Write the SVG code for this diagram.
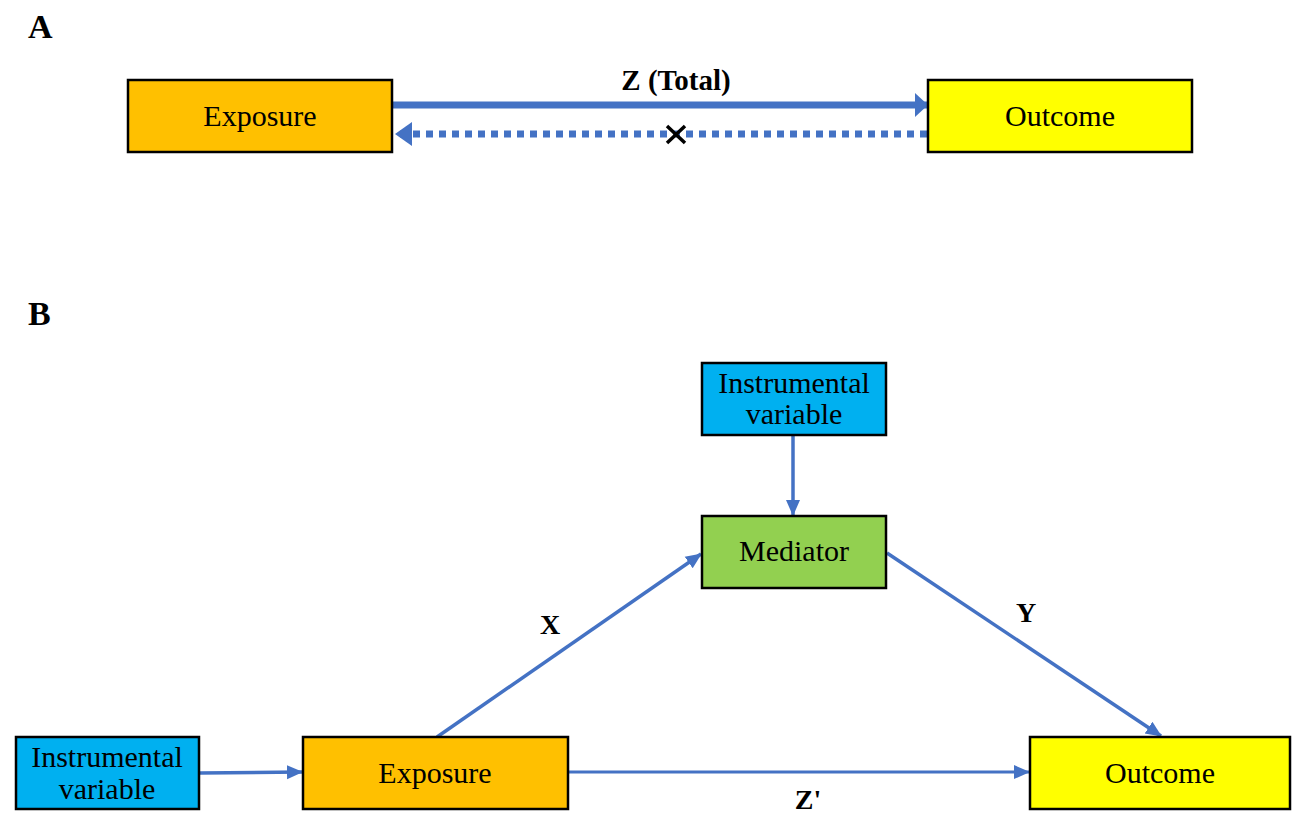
<svg xmlns="http://www.w3.org/2000/svg" width="1295" height="814" viewBox="0 0 1295 814">
<style>
.box{stroke:#000;stroke-width:2.5}
.t{font-family:"Liberation Serif","Times New Roman",serif;font-size:30px;fill:#000;text-anchor:middle}
.b{font-family:"Liberation Serif","Times New Roman",serif;font-weight:bold;fill:#000}
.c{stroke:#4472C4;fill:none}
</style>
<defs>
<marker id="big" markerUnits="userSpaceOnUse" markerWidth="14" markerHeight="24" refX="12" refY="12" orient="auto">
<path d="M0,0 L13,12 L0,24 Z" fill="#4472C4"/>
</marker>
<marker id="dash" markerUnits="userSpaceOnUse" markerWidth="18" markerHeight="24" refX="16" refY="12" orient="auto">
<path d="M0,0 L17,12 L0,24 Z" fill="#4472C4"/>
</marker>
<marker id="sm" markerUnits="userSpaceOnUse" markerWidth="16" markerHeight="16" refX="15" refY="8" orient="auto">
<path d="M0,1 L16,8 L0,15 Z" fill="#4472C4"/>
</marker>
</defs>
<rect width="1295" height="814" fill="#fff"/>
<text class="b" x="28" y="38" font-size="34">A</text>
<text class="b" x="28" y="325" font-size="34">B</text>

<g id="connectors">
<line class="c" x1="393" y1="105" x2="927" y2="105" stroke-width="7" marker-end="url(#big)"/>
<line class="c" x1="927" y1="134" x2="396" y2="134" stroke-width="7" stroke-dasharray="7 6" marker-end="url(#dash)"/>
<line class="c" x1="793" y1="436" x2="793" y2="515" stroke-width="3.5" marker-end="url(#sm)"/>
<line class="c" x1="200" y1="773" x2="302" y2="772" stroke-width="3.5" marker-end="url(#sm)"/>
<line class="c" x1="569" y1="772" x2="1029" y2="772" stroke-width="3" marker-end="url(#sm)"/>
<line class="c" x1="437" y1="737" x2="701" y2="554" stroke-width="3.5" marker-end="url(#sm)"/>
<line class="c" x1="887" y1="553" x2="1161" y2="736" stroke-width="3.5" marker-end="url(#sm)"/>
</g>
<g id="labels">
<text class="b" x="676" y="90" font-size="29" text-anchor="middle">Z (Total)</text>
<path d="M667,126 L685,143 M685,126 L667,143" stroke="#000" stroke-width="3.5"/>
<text class="b" x="550" y="634" font-size="28" text-anchor="middle">X</text>
<text class="b" x="1026" y="622" font-size="28" text-anchor="middle">Y</text>
<text class="b" x="808" y="809" font-size="28" text-anchor="middle">Z'</text>
</g>

<g id="exposureA">
<rect class="box" x="128" y="80" width="264" height="72" fill="#FFC000"/>
<text class="t" x="260" y="126">Exposure</text>
</g>
<g id="outcomeA">
<rect class="box" x="928" y="80" width="264" height="72" fill="#FFFF00"/>
<text class="t" x="1060" y="126">Outcome</text>
</g>
<g id="ivTop">
<rect class="box" x="702" y="363" width="184" height="72" fill="#00B0F0"/>
<text class="t" x="794" y="393">Instrumental</text>
<text class="t" x="794" y="424">variable</text>
</g>
<g id="mediator">
<rect class="box" x="702" y="516" width="184" height="72" fill="#92D050"/>
<text class="t" x="794" y="561">Mediator</text>
</g>
<g id="ivLeft">
<rect class="box" x="16" y="737" width="183" height="72" fill="#00B0F0"/>
<text class="t" x="107" y="767">Instrumental</text>
<text class="t" x="107" y="799">variable</text>
</g>
<g id="exposureB">
<rect class="box" x="303" y="737" width="265" height="72" fill="#FFC000"/>
<text class="t" x="435" y="783">Exposure</text>
</g>
<g id="outcomeB">
<rect class="box" x="1030" y="737" width="260" height="72" fill="#FFFF00"/>
<text class="t" x="1160" y="783">Outcome</text>
</g>
</svg>
